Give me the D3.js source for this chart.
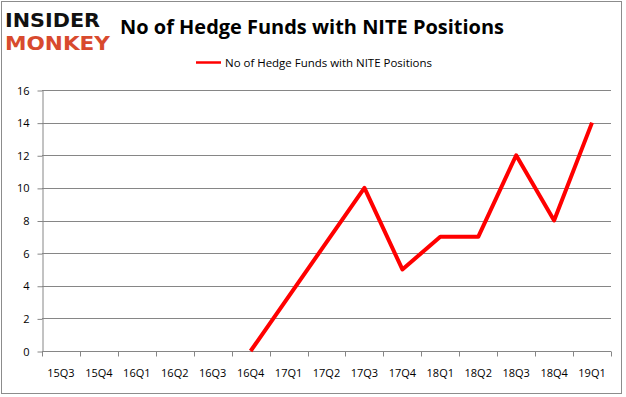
<!DOCTYPE html>
<html>
<head>
<meta charset="utf-8">
<script src="https://cdn.jsdelivr.net/npm/d3@7"></script>
<style>
  body { margin: 0; background: #fff; }
  svg { display: block; }
</style>
</head>
<body>
<div id="chart"></div>
<script>
// quarters on the x axis
const quarters = ["15Q3", "15Q4", "16Q1", "16Q2", "16Q3", "16Q4", "17Q1", "17Q2",
                  "17Q3", "17Q4", "18Q1", "18Q2", "18Q3", "18Q4", "19Q1"];
// hedge fund counts (null = no point, line just connects across)
const funds = [null, null, null, null, null, 0, null, null, 10, 5, 7, 7, 12, 8, 14];
const yTicks = [0, 2, 4, 6, 8, 10, 12, 14, 16];
const seriesName = "No of Hedge Funds with NITE Positions";

const width = 626, height = 397;
const margin = { left: 42, right: 15, top: 90, bottom: 46 };

const svg = d3.select("#chart").append("svg")
    .attr("width", width)
    .attr("height", height);

// outer frame
svg.append("rect")
    .attr("x", 1.5).attr("y", 1.5)
    .attr("width", 620).attr("height", 392)
    .attr("fill", "#fff")
    .attr("stroke", "#8c8c8c");

const x = d3.scaleBand()
    .domain(quarters)
    .range([margin.left, 611]);

const y = d3.scaleLinear()
    .domain([0, 16])
    .range([351, 90]);

// gridlines
svg.append("g")
    .selectAll("line")
    .data(yTicks.filter(d => d > 0))
    .enter()
    .append("line")
    .attr("x1", margin.left)
    .attr("x2", 611)
    .attr("y1", d => Math.round(y(d)) + 0.5)
    .attr("y2", d => Math.round(y(d)) + 0.5)
    .attr("stroke", "#868686");

// y axis
const yAxis = svg.append("g")
    .attr("transform", `translate(${margin.left + 0.5},0.5)`)
    .call(d3.axisLeft(y).tickValues(yTicks).tickSize(5).tickPadding(8).tickSizeOuter(0));
yAxis.select(".domain").attr("stroke", "#868686");
yAxis.selectAll(".tick line").attr("stroke", "#868686");
yAxis.selectAll("text")
    .attr("font-family", "'Open Sans', sans-serif")
    .attr("font-size", 11)
    .attr("fill", "#000");

// x axis, ticks at band edges
const xAxis = svg.append("g")
    .attr("transform", `translate(0,${Math.round(y(0)) + 0.5})`);
xAxis.append("line")
    .attr("x1", margin.left).attr("x2", 611)
    .attr("stroke", "#868686");
xAxis.selectAll(".tk")
    .data(quarters.concat(["end"]))
    .enter()
    .append("line")
    .attr("x1", (d, i) => Math.round(margin.left + i * x.step()) + 0.5)
    .attr("x2", (d, i) => Math.round(margin.left + i * x.step()) + 0.5)
    .attr("y1", 0).attr("y2", 5)
    .attr("stroke", "#868686");
xAxis.selectAll("text")
    .data(quarters)
    .enter()
    .append("text")
    .attr("x", d => x(d) + x.bandwidth() / 2)
    .attr("y", 25)
    .attr("text-anchor", "middle")
    .attr("font-family", "'Open Sans', sans-serif")
    .attr("font-size", 11)
    .text(d => d);

// line
const pts = quarters.map((q, i) => ({ q: q, v: funds[i] })).filter(d => d.v !== null);
const line = d3.line()
    .x(d => x(d.q) + x.bandwidth() / 2)
    .y(d => y(d.v));
svg.append("path")
    .datum(pts)
    .attr("d", line)
    .attr("fill", "none")
    .attr("stroke", "#ff0000")
    .attr("stroke-width", 4)
    .attr("stroke-linejoin", "round");

// title
svg.append("text")
    .attr("x", 120)
    .attr("y", 34)
    .attr("font-family", "'Open Sans', sans-serif")
    .attr("font-weight", "bold")
    .attr("font-size", 20)
    .attr("textLength", 384)
    .attr("lengthAdjust", "spacingAndGlyphs")
    .text(seriesName);

// legend
svg.append("line")
    .attr("x1", 196).attr("x2", 221)
    .attr("y1", 62.5).attr("y2", 62.5)
    .attr("stroke", "#ff0000")
    .attr("stroke-width", 2.5);
svg.append("text")
    .attr("x", 225)
    .attr("y", 66.5)
    .attr("font-family", "'Open Sans', sans-serif")
    .attr("font-size", 11)
    .attr("textLength", 207)
    .attr("lengthAdjust", "spacingAndGlyphs")
    .text(seriesName);

// logo
svg.append("text")
    .attr("x", 5).attr("y", 27)
    .attr("font-family", "'DejaVu Sans', sans-serif")
    .attr("font-weight", "900")
    .attr("font-size", 20)
    .attr("textLength", 95)
    .attr("lengthAdjust", "spacingAndGlyphs")
    .attr("fill", "#111")
    .text("INSIDER");
svg.append("text")
    .attr("x", 5).attr("y", 50)
    .attr("font-family", "'DejaVu Sans', sans-serif")
    .attr("font-weight", "900")
    .attr("font-size", 20)
    .attr("textLength", 105)
    .attr("lengthAdjust", "spacingAndGlyphs")
    .attr("fill", "#d84a2e")
    .text("MONKEY");
</script>
</body>
</html>
